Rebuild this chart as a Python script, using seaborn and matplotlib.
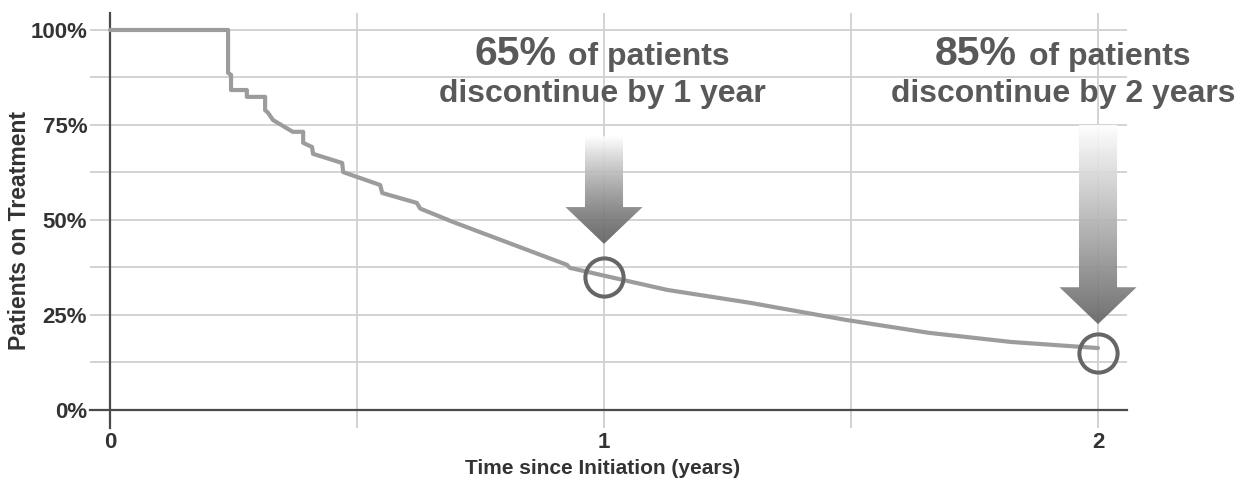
import numpy as np
import pandas as pd
import matplotlib
matplotlib.use("Agg")
import matplotlib.pyplot as plt
import seaborn as sns
from matplotlib.patches import Polygon
from matplotlib.ticker import FixedLocator, MultipleLocator, PercentFormatter
from matplotlib.transforms import offset_copy

# Kaplan-Meier style persistence curve: time since initiation (years)
# and the share of patients still on treatment
time_years = [0.000, 0.239, 0.239, 0.245, 0.245, 0.277, 0.277, 0.314, 0.314,
              0.320, 0.330, 0.370, 0.391, 0.391, 0.409, 0.411, 0.470, 0.472,
              0.547, 0.551, 0.621, 0.628, 0.694, 0.925, 0.931, 1.012, 1.128,
              1.296, 1.490, 1.658, 1.824, 2.000]
on_treatment = [1.000, 1.000, 0.887, 0.882, 0.842, 0.842, 0.824, 0.824, 0.789,
                0.782, 0.763, 0.732, 0.732, 0.703, 0.692, 0.674, 0.650, 0.626,
                0.592, 0.571, 0.545, 0.530, 0.495, 0.382, 0.374, 0.350, 0.316,
                0.282, 0.237, 0.203, 0.179, 0.163]

# Highlighted milestones
milestone_years = [1, 2]
discontinued = [0.65, 0.85]
milestone_text = ["discontinue by 1 year", "discontinue by 2 years"]

x_ticks = [0, 1, 2]
x_tick_labels = ["0", "1", "2"]

sns.set_theme(style="whitegrid")
plt.rcParams["font.family"] = ["Liberation Sans", "DejaVu Sans"]
plt.rcParams["font.weight"] = "bold"

W, H = 1244, 484
fig = plt.figure(figsize=(W / 100, H / 100), dpi=100)
ax = fig.add_axes([90 / W, 56 / H, (1127 - 90) / W, (428 - 13) / H])

GRID = "#d3d3d3"
DARK = "#4a4a4a"
TEXT = "#595959"

# Gradient arrows pointing at the milestones
def gradient_arrow(ax, x, y_top, y_tip, shaft_hw, head_hw, head_len, power):
    neck = y_tip + head_len
    pts = [(x - shaft_hw, y_top), (x + shaft_hw, y_top), (x + shaft_hw, neck),
           (x + head_hw, neck), (x, y_tip), (x - head_hw, neck),
           (x - shaft_hw, neck)]
    poly = Polygon(pts, closed=True, facecolor="none", edgecolor="none")
    ax.add_patch(poly)
    t = np.linspace(0, 1, 300)[:, None]
    shade = 0.40 + 0.60 * t ** power
    img = np.repeat(shade, 2, axis=1)
    im = ax.imshow(img, cmap="gray", vmin=0, vmax=1, origin="lower",
                   extent=[x - head_hw, x + head_hw, y_tip, y_top],
                   aspect="auto", interpolation="bilinear", zorder=2, alpha=0.93)
    im.set_clip_path(poly)
    im.set_clip_box(fig.bbox)

arrow_tops = [0.72, 0.75]
arrow_tips = [0.437, 0.226]
arrow_power = [1.4, 1.0]
for mx, top, tip, pw in zip(milestone_years, arrow_tops, arrow_tips, arrow_power):
    gradient_arrow(ax, mx, top, tip, 0.0385, 0.078, 0.097, pw)

# Persistence curve
curve = pd.DataFrame({"years": time_years, "share": on_treatment})
sns.lineplot(data=curve, x="years", y="share", estimator=None, sort=False,
             color="#9c9c9c", linewidth=3.0, ax=ax, zorder=4)

# Milestone circles
remaining = [1 - d for d in discontinued]
ax.plot(milestone_years, remaining, linestyle="none", marker="o",
        markersize=27.5, markerfacecolor="none", markeredgecolor="#666666",
        markeredgewidth=2.9, zorder=5)

# Axes styling
ax.set_xlim(-0.0405, 2.0587)
ax.set_ylim(-0.0474, 1.0447)
ax.set_facecolor("white")
for side in ["top", "right"]:
    ax.spines[side].set_visible(False)
ax.spines["left"].set_position(("data", 0))
ax.spines["bottom"].set_position(("data", 0))
for side in ["left", "bottom"]:
    ax.spines[side].set_visible(True)
    ax.spines[side].set_color(DARK)
    ax.spines[side].set_linewidth(1.6)
    ax.spines[side].set_zorder(3)

ax.xaxis.set_major_locator(FixedLocator(x_ticks))
ax.xaxis.set_minor_locator(FixedLocator([0.5, 1.5]))
ax.set_xticklabels(x_tick_labels)
ax.yaxis.set_major_locator(MultipleLocator(0.25))
ax.yaxis.set_minor_locator(MultipleLocator(0.125))
ax.yaxis.set_major_formatter(PercentFormatter(1.0, decimals=0))

ax.grid(which="both", color=GRID, linewidth=1.4)
ax.set_axisbelow(True)
ax.tick_params(axis="y", which="both", left=True, length=14.4, width=1.4,
               color=GRID, pad=2, labelsize=16, labelcolor="#333333")
ax.tick_params(axis="x", which="both", bottom=True, length=13, width=1.4,
               color=GRID, pad=3, labelsize=16, labelcolor="#333333")
ax.set_xlabel("")
ax.set_ylabel("")

fig.text(20 / W, (H - 231) / H, "Patients on Treatment", rotation=90,
         ha="center", va="center", fontsize=16.6, fontweight="bold",
         color="#333333")
fig.text(603 / W, (H - 469) / H, "Time since Initiation (years)",
         ha="center", va="center", fontsize=15, fontweight="bold",
         color="#333333")

# Callout text above each arrow
fig.canvas.draw()

def centered_line(ax, x, y, parts, gap_px):
    texts = [ax.text(x, y, s, fontsize=fs, fontweight="bold", color=TEXT,
                     ha="left", va="baseline", zorder=6, clip_on=False)
             for s, fs in parts]
    renderer = fig.canvas.get_renderer()
    widths = [t.get_window_extent(renderer).width for t in texts]
    total = sum(widths) + gap_px * (len(widths) - 1)
    dx = -total / 2
    for t, w in zip(texts, widths):
        t.set_transform(offset_copy(ax.transData, fig=fig, x=dx, y=0, units="dots"))
        dx += w + gap_px

text_centers = [0.996, 1.929]
for cx, d, line2 in zip(text_centers, discontinued, milestone_text):
    centered_line(ax, cx, 0.908, [(f"{d:.0%}", 29.5), ("of patients", 23)], 12)
    centered_line(ax, cx, 0.811, [(line2, 23)], 0)

fig.savefig("out.png", dpi=100, facecolor="white")
